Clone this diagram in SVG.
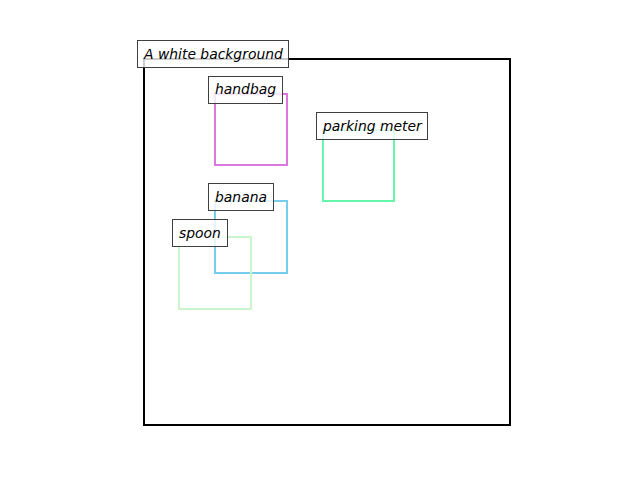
<svg xmlns="http://www.w3.org/2000/svg" width="640" height="480" viewBox="0 0 640 480">
<style>
.lbl rect{fill:#ffffff;fill-opacity:0.8;stroke:#3f3f3f;stroke-width:1}
.lbl text{font-family:"DejaVu Sans",sans-serif;font-style:italic;font-size:13.9px;fill:#000}
.box{fill:none;stroke-width:2}
</style>
<rect width="640" height="480" fill="#fff"/>
<g id="connectors"/>
<g id="background">
<rect x="144" y="59" width="366" height="366" fill="none" stroke="#000" stroke-width="2"/>
</g>
<g id="handbag"><rect class="box" x="215" y="94" width="72" height="71" stroke="#dd77dd"/></g>
<g id="parking-meter"><rect class="box" x="323" y="130" width="71" height="71" stroke="#66f5aa"/></g>
<g id="banana"><rect class="box" x="215" y="201" width="72" height="72" stroke="#77ccee"/></g>
<g id="spoon"><rect class="box" x="179" y="237" width="72" height="72" stroke="#ccf5cc"/></g>
<g id="label-background" class="lbl"><rect x="137.5" y="40.5" width="151" height="27"/><text x="144" y="58.5">A white background</text></g>
<g id="label-handbag" class="lbl"><rect x="208.5" y="76.5" width="74" height="27"/><text x="215" y="94">handbag</text></g>
<g id="label-parking-meter" class="lbl"><rect x="316.5" y="112.5" width="111" height="27"/><text x="323" y="130.5">parking meter</text></g>
<g id="label-banana" class="lbl"><rect x="208.5" y="183.5" width="65" height="27"/><text x="215" y="201.5">banana</text></g>
<g id="label-spoon" class="lbl"><rect x="172.5" y="219.5" width="55" height="27"/><text x="179" y="237.5">spoon</text></g>
</svg>
